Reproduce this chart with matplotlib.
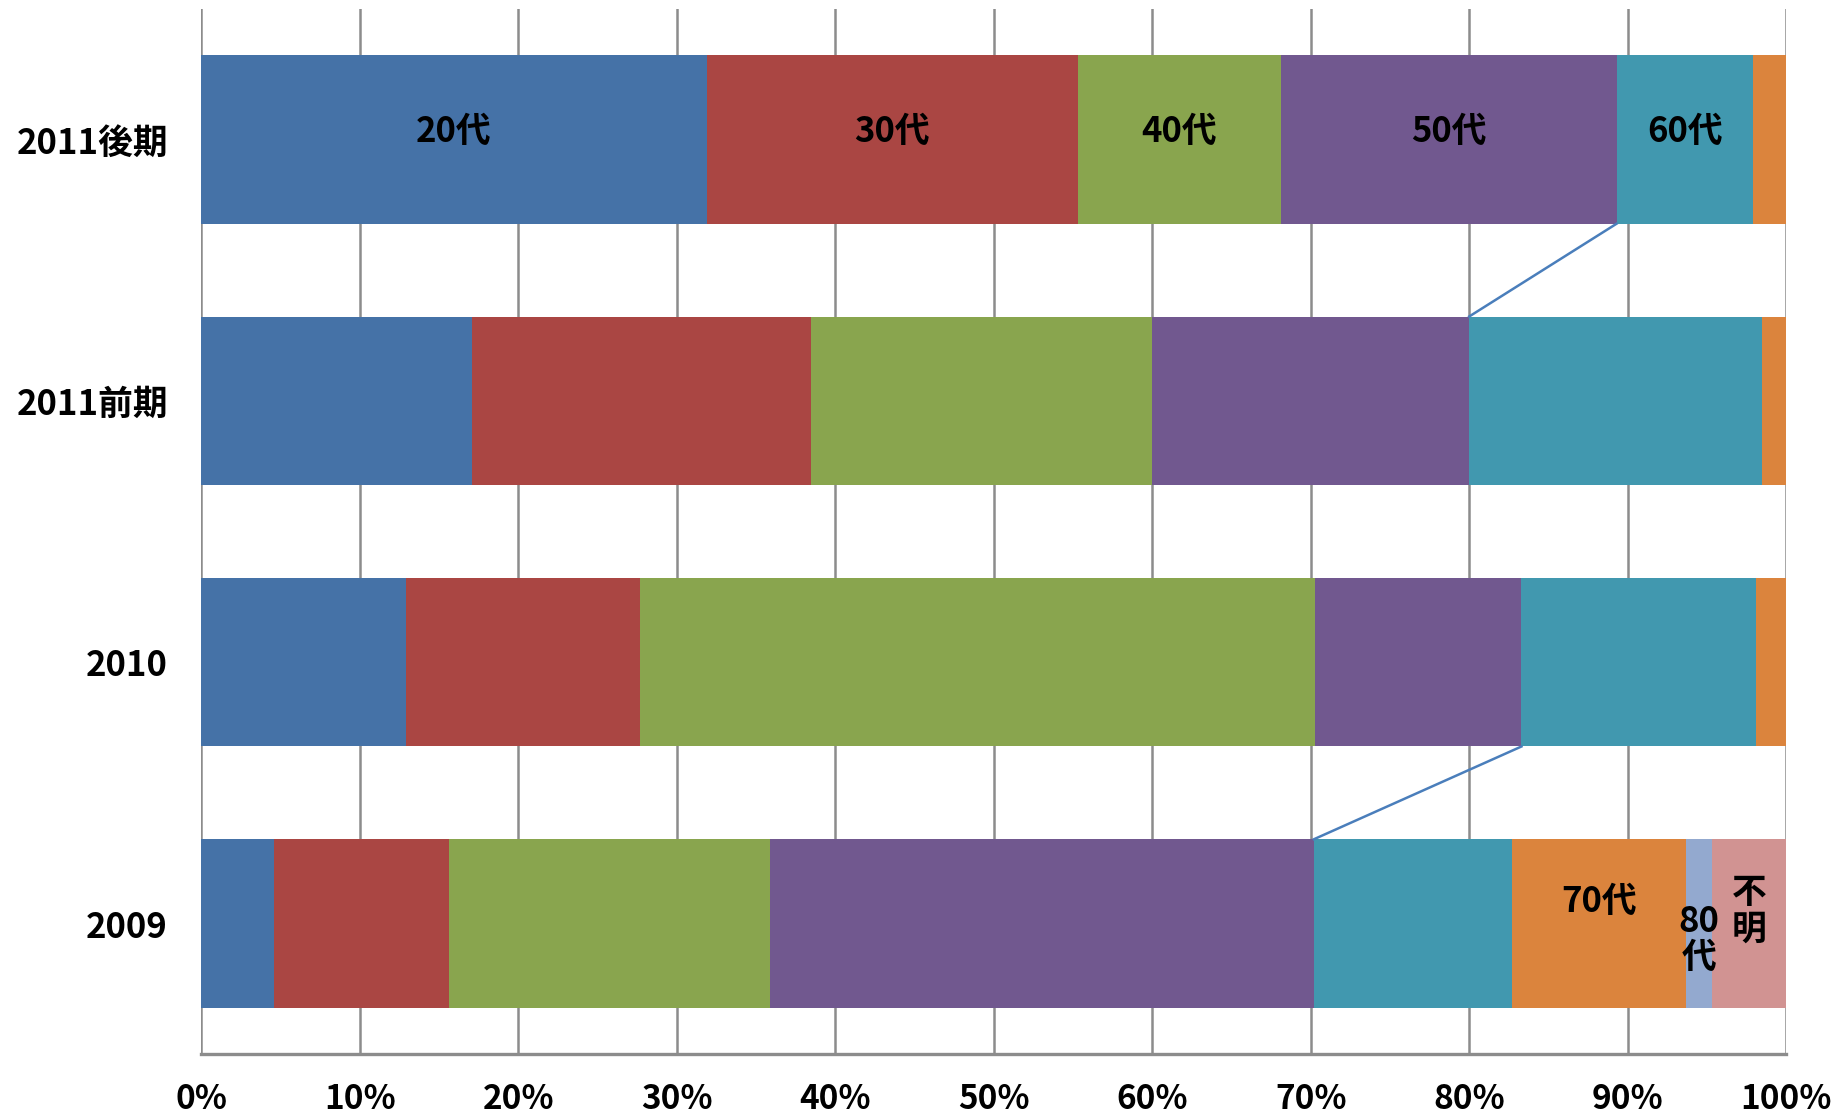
import matplotlib
matplotlib.use("Agg")
import matplotlib.pyplot as plt
import numpy as np

plt.rcParams['font.family'] = ['Noto Sans CJK JP', 'DejaVu Sans']

# Age-group share (%) per survey period, top bar first
periods = ['2011後期', '2011前期', '2010', '2009']
age_groups = ['20代', '30代', '40代', '50代', '60代', '70代', '80代', '不明']
share_2011_late = [31.9, 23.4, 12.8, 21.2, 8.6, 2.1, 0.0, 0.0]
share_2011_early = [17.1, 21.4, 21.5, 20.0, 18.5, 1.5, 0.0, 0.0]
share_2010 = [12.9, 14.8, 42.6, 13.0, 14.8, 1.9, 0.0, 0.0]
share_2009 = [4.6, 11.0, 20.3, 34.3, 12.5, 11.0, 1.6, 4.7]
x_ticks = [0, 10, 20, 30, 40, 50, 60, 70, 80, 90, 100]

colors = ['#4572A7', '#AA4643', '#89A54E', '#71588F',
          '#4198AF', '#DB843D', '#93A9CF', '#D19392']

shares = np.array([share_2011_late, share_2011_early, share_2010, share_2009])
ypos = np.arange(len(periods))
bar_h = 0.645

fig = plt.figure(figsize=(18.45, 11.2), dpi=100)
ax = fig.add_axes([0.1091, 0.0587, 0.859, 0.9335])

left = np.zeros(len(periods))
for j, grp in enumerate(age_groups):
    ax.barh(ypos, shares[:, j], left=left, height=bar_h,
            color=colors[j], zorder=3)
    left += shares[:, j]

ax.set_xlim(0, 100)
ax.set_ylim(len(periods) - 0.5, -0.5)

# vertical gridlines behind the bars
for t in x_ticks:
    ax.axvline(t, color='#8c8c8c', lw=1.8, zorder=1)

for s in ['top', 'right', 'left']:
    ax.spines[s].set_visible(False)
ax.spines['bottom'].set_color('#8c8c8c')
ax.spines['bottom'].set_linewidth(2.4)

ax.set_xticks(x_ticks)
ax.set_xticklabels([f'{t}%' for t in x_ticks], fontsize=24, fontweight='bold')
ax.set_yticks(ypos)
ax.set_yticklabels(periods, fontsize=25, fontweight='bold')
ax.tick_params(axis='x', length=0, pad=21)
ax.tick_params(axis='y', length=0, pad=24)

# series lines linking the end of the 50代 segment between neighbouring bars
cum = np.cumsum(shares, axis=1)
for upper, lower in [(0, 1), (2, 3)]:
    ax.plot([cum[upper, 3], cum[lower, 3]],
            [ypos[upper] + bar_h / 2, ypos[lower] - bar_h / 2],
            color='#4a7ebb', lw=1.8, zorder=4)

# segment labels
starts = cum - shares
centers = starts + shares / 2
seg_labels = [
    (0, 0, '20代', -0.03), (0, 1, '30代', -0.03), (0, 2, '40代', -0.03),
    (0, 3, '50代', -0.03), (0, 4, '60代', -0.03),
    (3, 5, '70代', -0.085), (3, 6, '80\n代', 0.06), (3, 7, '不\n明', -0.05),
]
for row, col, txt, dy in seg_labels:
    ax.text(centers[row, col], ypos[row] + dy, txt, ha='center', va='center',
            fontsize=25, fontweight='bold', color='black', zorder=5,
            linespacing=1.05)

fig.savefig('out.png', dpi=100)
